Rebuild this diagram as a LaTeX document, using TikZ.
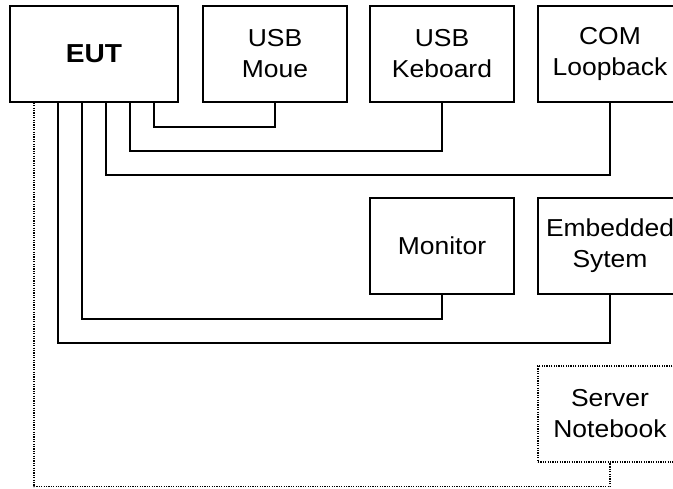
\documentclass[tikz,border=0pt]{standalone}
\usepackage{fontspec}
\setmainfont[FakeStretch=1.08]{Liberation Sans}
\tikzset{
  unit/.style={draw,line width=1.5pt,minimum width=144pt,minimum height=96pt,
    inner sep=0pt,align=center,font=\fontsize{24.5}{31}\selectfont},
  link/.style={line width=1.5pt},
  netlink/.style={line width=1.4pt,dash pattern=on 1.2pt off 1.2pt}
}
\begin{document}
\begin{tikzpicture}[x=1pt,y=-1pt]
\useasboundingbox (0,0) rectangle (673,488);
\clip (0,0) rectangle (673,488);

\node[unit,minimum width=168pt,font=\fontsize{26}{31}\bfseries\selectfont] (eut) at (94,54) {EUT};
\node[unit] (mouse) at (275,54) {USB\\Moue};
\node[unit] (kbd) at (442,54) {USB\\Keboard};
\node[unit] (com) at (610,54) {COM\\Loopback};
\node[unit] (mon) at (442,246) {Monitor};
\node[unit] (emb) at (610,246) {Embedded\\Sytem};
\node[unit,netlink] (srv) at (610,414) {Server\\Notebook};

\draw[link] ([xshift=60pt]eut.south) -- ++(0,24) -| (mouse.south);
\draw[link] ([xshift=36pt]eut.south) -- ++(0,48) -| (kbd.south);
\draw[link] ([xshift=12pt]eut.south) -- ++(0,72) -| (com.south);
\draw[link] ([xshift=-12pt]eut.south) -- ++(0,216) -| (mon.south);
\draw[link] ([xshift=-36pt]eut.south) -- ++(0,240) -| (emb.south);
\draw[netlink] ([xshift=-60pt]eut.south) -- ++(0,384) -| (srv.south);
\end{tikzpicture}
\end{document}
